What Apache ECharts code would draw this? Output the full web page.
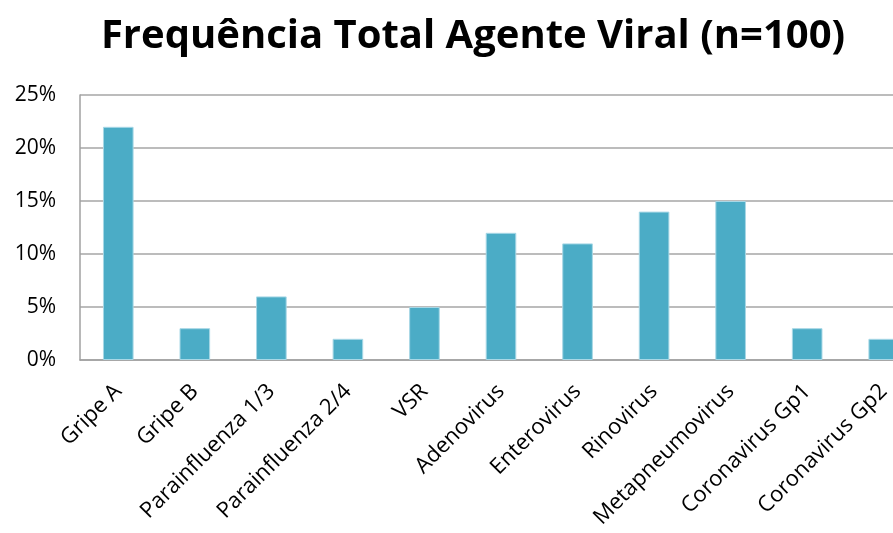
<!DOCTYPE html>
<html>
<head>
<meta charset="utf-8">
<script src="https://cdn.jsdelivr.net/npm/echarts@6/dist/echarts.min.js"></script>
<style>
  html, body { margin: 0; padding: 0; background: #fff; }
  #chart { width: 893px; height: 533px; }
</style>
</head>
<body>
<div id="chart"></div>
<script>
// datos del grafico
var categorias = ["Gripe A", "Gripe B", "Parainfluenza 1/3", "Parainfluenza 2/4", "VSR", "Adenovirus",
  "Enterovirus", "Rinovirus", "Metapneumovirus", "Coronavirus Gp1", "Coronavirus Gp2"];
var frecuencias = [22, 3, 6, 2, 5, 12, 11, 14, 15, 3, 2];
var ticksY = [0, 5, 10, 15, 20, 25];

var fuente = "'Open Sans', 'Noto Sans', sans-serif";

var myChart = echarts.init(document.getElementById("chart"));
myChart.setOption({
  animation: false,
  title: {
    text: "Frequência Total Agente Viral (n=100)",
    left: 468,
    textAlign: "center",
    top: 12,
    textStyle: { fontFamily: fuente, fontSize: 40, fontWeight: "bold", color: "#000" }
  },
  // el grafico original esta recortado a la derecha
  grid: { left: 80, width: 842, top: 95, height: 265, containLabel: false, outerBoundsMode: "none" },
  xAxis: {
    type: "category",
    data: categorias,
    axisLine: { lineStyle: { color: "#A0A0A0", width: 1.5 } },
    axisTick: { show: false },
    axisLabel: {
      rotate: 45,
      interval: 0,
      margin: 28,
      color: "#000",
      fontFamily: fuente,
      fontSize: 22
    }
  },
  yAxis: {
    type: "value",
    min: ticksY[0],
    max: ticksY[ticksY.length - 1],
    interval: 5,
    axisLine: { show: true, lineStyle: { color: "#A0A0A0", width: 1.5 } },
    axisTick: { show: false },
    splitLine: { lineStyle: { color: "#A6A6A6", width: 1.5 } },
    axisLabel: {
      margin: 24,
      color: "#000",
      fontFamily: fuente,
      fontSize: 21,
      formatter: function (v) { return v + "%"; }
    }
  },
  series: [{
    type: "bar",
    data: frecuencias,
    barWidth: "40%",
    itemStyle: { color: "#4BACC6", borderColor: "#A8D8E6", borderWidth: 1 }
  }]
});
</script>
</body>
</html>
